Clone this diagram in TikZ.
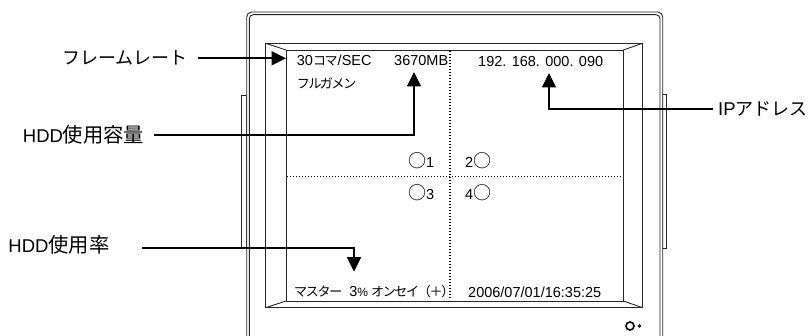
\documentclass[tikz,border=0pt]{standalone}
\usepackage{fontspec}
\setmainfont{Liberation Sans}
\newfontfamily\jp{Noto Sans CJK JP}
\newfontfamily\jpn[LetterSpace=-10]{Noto Sans CJK JP}
\usetikzlibrary{arrows.meta}
\newcommand{\jpl}{\jp\fontsize{20.3}{22}\selectfont}
\newcommand{\jpk}{\jp\fontsize{18}{20}\selectfont}
\newcommand{\jps}{\jpn\fontsize{13}{15}\selectfont}
\newcommand{\circq}{{\jp\fontsize{18}{20}\selectfont ○}}
\begin{document}
\begin{tikzpicture}[x=1pt,y=-1pt,
  frameline/.style={line width=0.9pt, black!85},
  pointer/.style={line width=1.7pt, -{Triangle[length=14.5pt,width=14pt]}},
  lbl/.style={anchor=west, inner sep=0pt, font=\fontsize{18.5}{21}\selectfont},
  scr/.style={anchor=west, inner sep=0pt, font=\fontsize{14.5}{16}\selectfont},
  grid/.style={line width=1.5pt, dash pattern=on 1.4pt off 1.6pt}]
\useasboundingbox (0,0) rectangle (810,336);
% monitor frame
\draw[frameline] (241,248) rectangle (246.7,95);
\draw[frameline] (666.7,248) rectangle (662.7,94);
\draw[frameline, fill=white, rounded corners=5pt] (246.7,337) -- (246.7,12) -- (662.7,12) -- (662.7,337);
\draw[frameline, rounded corners=4pt] (249.3,337) -- (249.3,14.7) -- (660,14.7) -- (660,337);
% bezel and screen
\draw[frameline] (265.7,43.3) rectangle (642.7,307.7);
\draw[frameline] (286,50) rectangle (623.3,301);
\draw[frameline] (265.7,43.3) -- (286,50) (642.7,43.3) -- (623.3,50)
  (265.7,307.7) -- (286,301) (642.7,307.7) -- (623.3,301);
% dotted quad split
\draw[grid] (450,51) -- (450,300);
\draw[grid] (287,176.7) -- (622,176.7);
% screen texts
\node[scr] (t1) at (296.7,61) {30{\jps コマ}/SEC};
\node[scr] (t2) at (394,61) {3670MB};
\node[scr] (t3) at (478,62) {192. 168. 000. 090};
\node[scr] (t4) at (296.7,83) {\jps フルガメン};
\node[scr] (q1) at (408,161) {\circq 1};
\node[scr] (q2) at (465,161) {2\circq};
\node[scr] (q3) at (408,192.7) {\circq 3};
\node[scr] (q4) at (465,192.7) {4\circq};
\node[scr] (b1) at (294,291.7) {{\jps マスター}\hspace{7pt}3{\fontsize{12}{14}\selectfont\%}\hspace{3pt}{\jps オンセイ（＋）}};
\node[scr] (b2) at (468,292.7) {2006/07/01/16:35:25};
% power indicator
\draw[line width=1.6pt] (630,326) circle[radius=4];
\draw[line width=0.8pt] (639.5,326) circle[radius=1.2];
% labels
\node[lbl] (fr) at (62,58.3) {\jpk フレームレート};
\node[lbl] (hc) at (22.7,135) {HDD{\jpl 使用容量}};
\node[lbl] (ip) at (718,109) {IP{\jpk アドレス}};
\node[lbl] (hr) at (8.3,245) {HDD{\jpl 使用率}};
% arrow targets
\coordinate (afr) at (286,58.3);
\coordinate (ahc) at (414,72);
\coordinate (aip) at (549,73);
\coordinate (ahr) at (354,271.7);
\coordinate (shr) at (141.7,248.3);
% connectors
\draw[pointer] ([xshift=10pt]fr.east) -- (afr);
\draw[pointer] ([xshift=10pt]hc.east) -- (ahc |- hc.east) -- (ahc);
\draw[pointer] ([xshift=-5pt]ip.west) -- (aip |- ip.west) -- (aip);
\draw[pointer] (shr) -- (ahr |- shr) -- (ahr);
\end{tikzpicture}
\end{document}
